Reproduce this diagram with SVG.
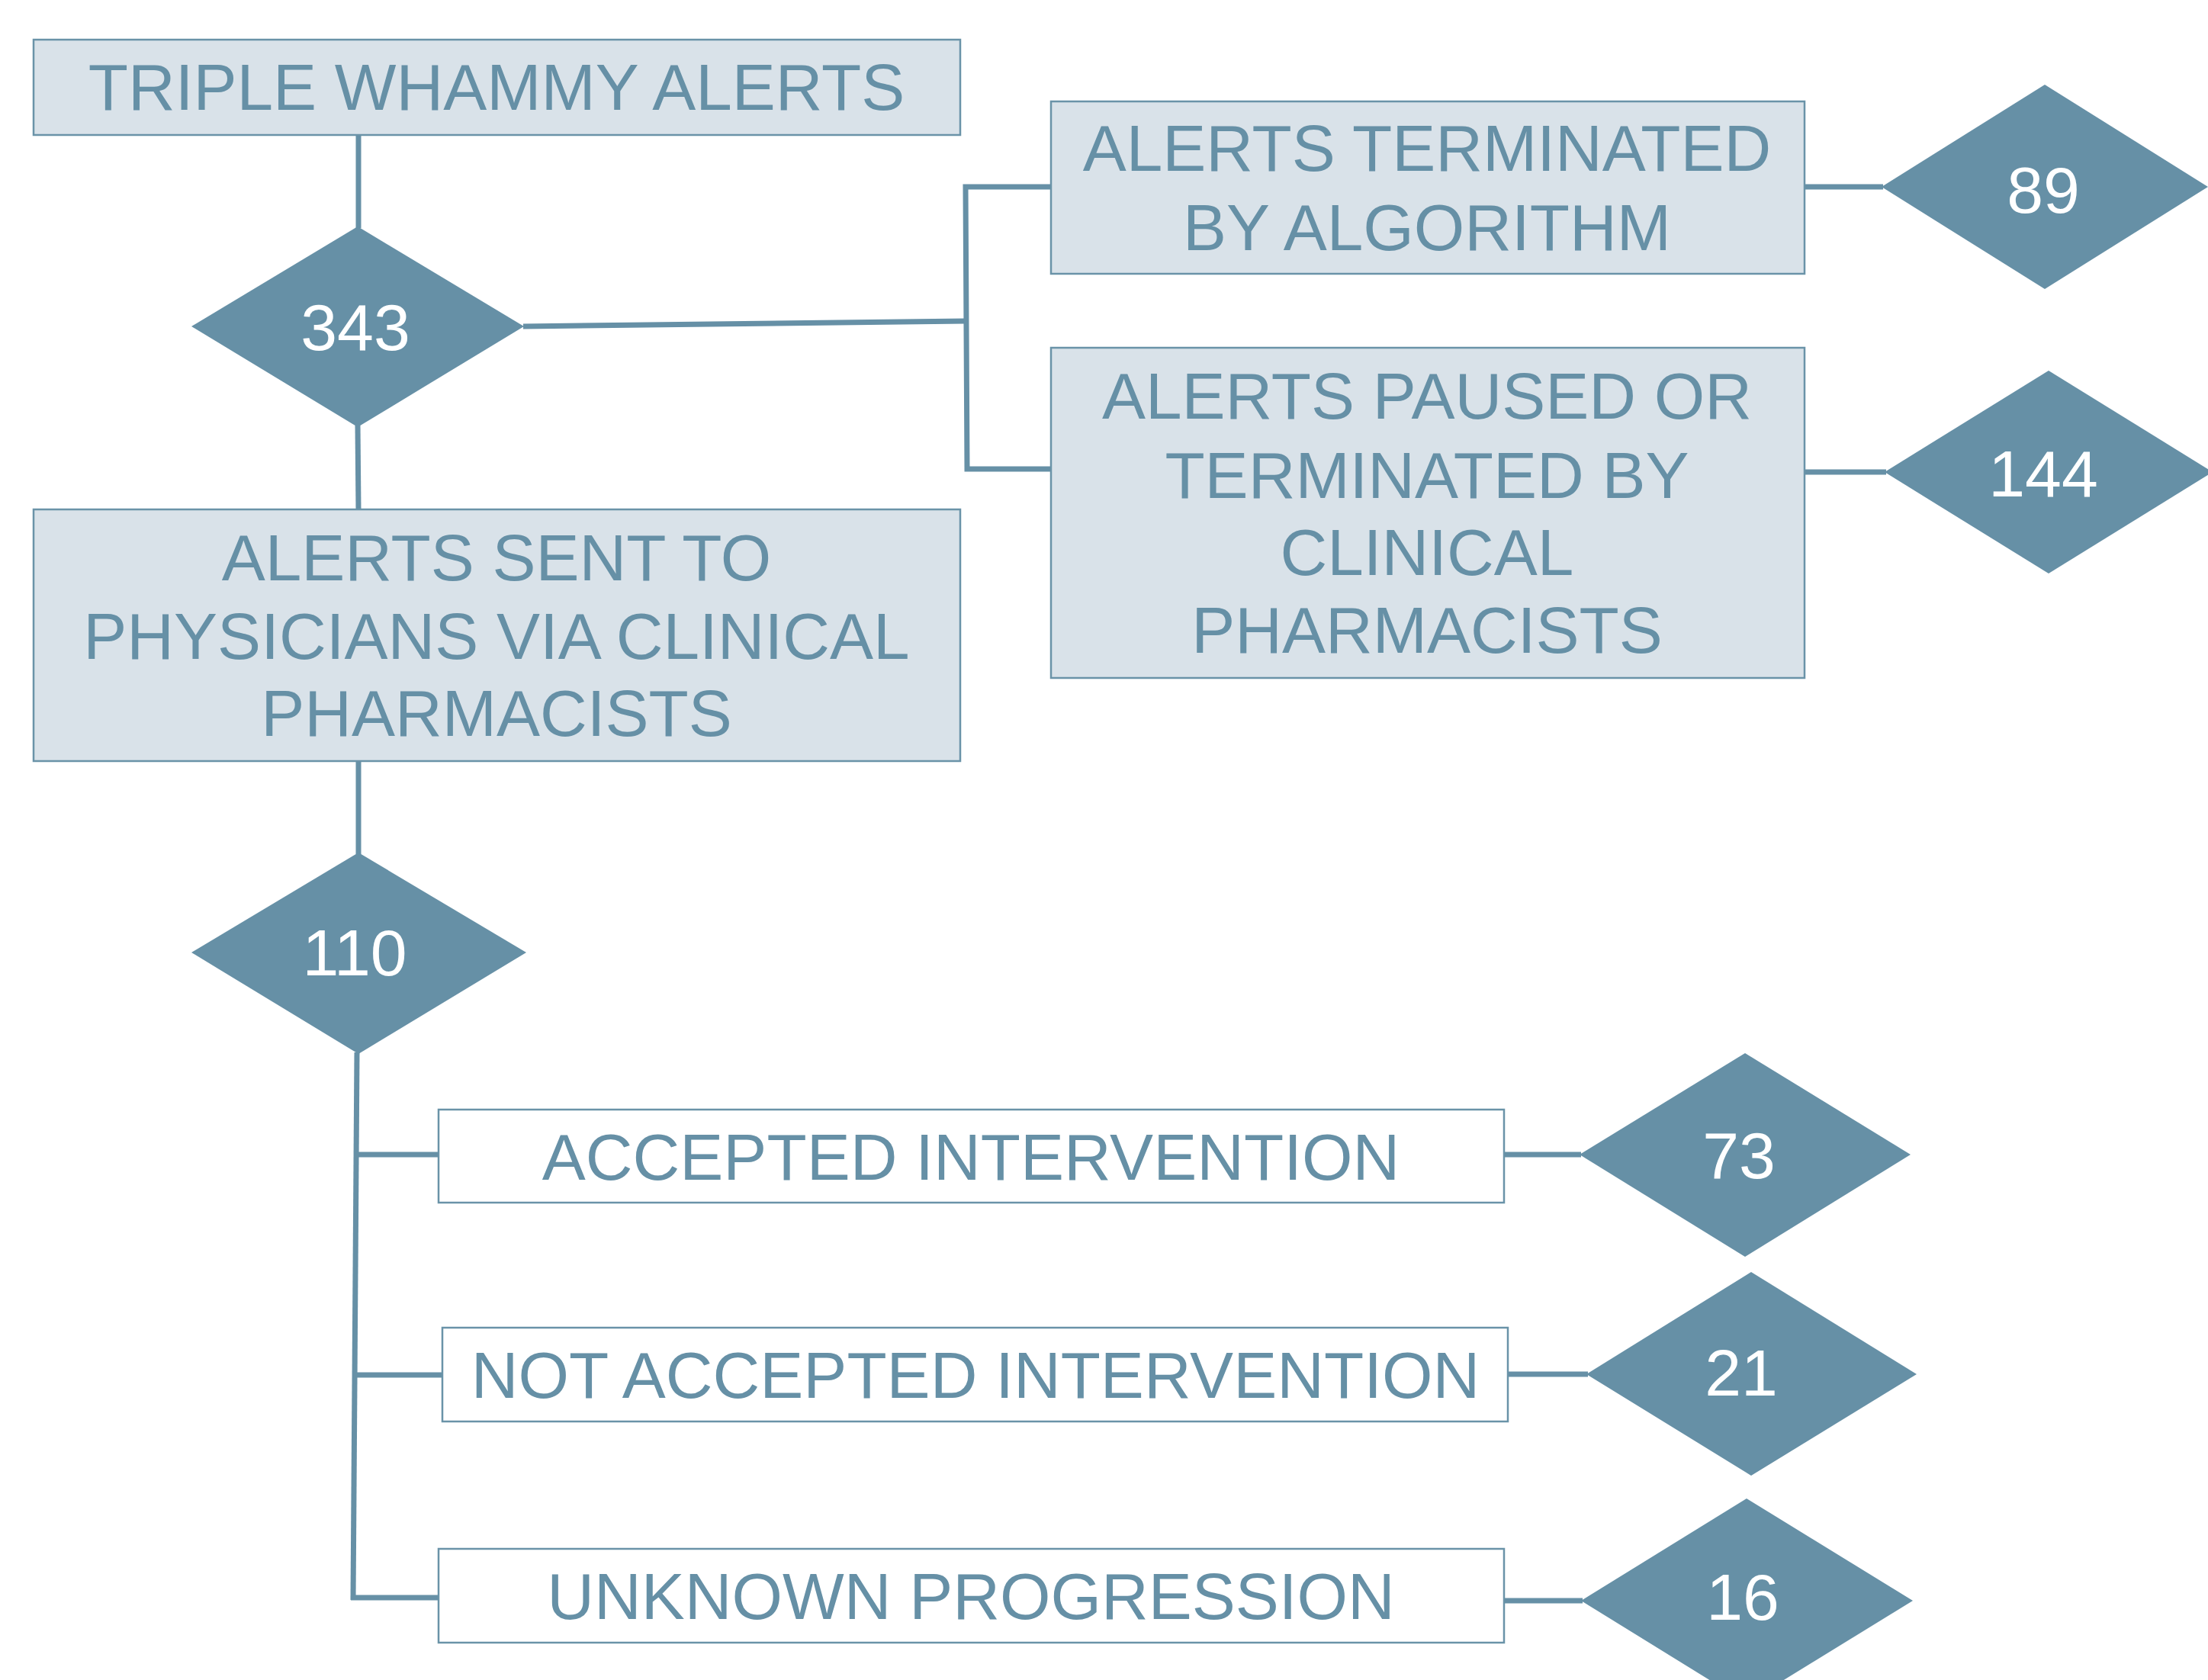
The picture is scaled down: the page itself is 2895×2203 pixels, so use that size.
<svg xmlns="http://www.w3.org/2000/svg" width="2895" height="2203" viewBox="0 0 2895 2203">
<style>
.box{fill:#d9e2e9;stroke:#6a93a8;stroke-width:2.5}
.wbox{fill:#ffffff;stroke:#6a93a8;stroke-width:2.5}
.dia{fill:#6690a6}
.lbl{font-family:"Liberation Sans",Arial,sans-serif;font-size:85.5px;fill:#6690a6;text-anchor:middle}
.num{font-family:"Liberation Sans",Arial,sans-serif;font-size:86px;fill:#ffffff;text-anchor:middle}
.con{fill:none;stroke:#6690a6;stroke-width:7}
</style>
<rect width="2895" height="2203" fill="#ffffff"/>
<g id="connectors">
<line class="con" x1="470" y1="177" x2="470" y2="299"/>
<line class="con" x1="686" y1="428" x2="1266" y2="421"/>
<polyline class="con" points="1378,245 1266,245 1268,615 1378,615"/>
<line class="con" x1="2366" y1="245" x2="2469" y2="245"/>
<line class="con" x1="2366" y1="619" x2="2473" y2="619"/>
<line class="con" x1="469" y1="558" x2="470" y2="668"/>
<line class="con" x1="470" y1="998" x2="470" y2="1120"/>
<line class="con" x1="468" y1="1380" x2="463" y2="2098"/>
<line class="con" x1="467" y1="1514" x2="575" y2="1514"/>
<line class="con" x1="465" y1="1803" x2="580" y2="1803"/>
<line class="con" x1="460" y1="2095" x2="575" y2="2095"/>
<line class="con" x1="1972" y1="1514" x2="2073" y2="1514"/>
<line class="con" x1="1977" y1="1802" x2="2082" y2="1802"/>
<line class="con" x1="1972" y1="2099" x2="2075" y2="2099"/>
</g>
<g id="n-triple">
<rect class="box" x="44" y="52" width="1215" height="125"/>
<text class="lbl" x="651" y="144">TRIPLE WHAMMY ALERTS</text>
</g>
<g id="d-343">
<polygon class="dia" points="251,428 469,297 687,428 469,560"/>
<text class="num" x="466" y="459">343</text>
</g>
<g id="n-algorithm">
<rect class="box" x="1378" y="133" width="988" height="226"/>
<text class="lbl" x="1871" y="224">ALERTS TERMINATED</text>
<text class="lbl" x="1871" y="328">BY ALGORITHM</text>
</g>
<g id="d-89">
<polygon class="dia" points="2467,245 2681,111 2895,245 2681,379"/>
<text class="num" x="2679" y="279">89</text>
</g>
<g id="n-paused">
<rect class="box" x="1378" y="456" width="988" height="433"/>
<text class="lbl" x="1871" y="549">ALERTS PAUSED OR</text>
<text class="lbl" x="1871" y="653">TERMINATED BY</text>
<text class="lbl" x="1871" y="754">CLINICAL</text>
<text class="lbl" x="1871" y="856">PHARMACISTS</text>
</g>
<g id="d-144">
<polygon class="dia" points="2471,619 2686,486 2901,619 2686,752"/>
<text class="num" x="2679" y="651">144</text>
</g>
<g id="n-sent">
<rect class="box" x="44" y="668" width="1215" height="330"/>
<text class="lbl" x="651" y="761">ALERTS SENT TO</text>
<text class="lbl" x="651" y="864">PHYSICIANS VIA CLINICAL</text>
<text class="lbl" x="651" y="965">PHARMACISTS</text>
</g>
<g id="d-110">
<polygon class="dia" points="251,1249 470,1118 690,1249 470,1382"/>
<text class="num" x="465" y="1279">110</text>
</g>
<g id="n-accepted">
<rect class="wbox" x="575" y="1455" width="1397" height="122"/>
<text class="lbl" x="1273" y="1547">ACCEPTED INTERVENTION</text>
</g>
<g id="d-73">
<polygon class="dia" points="2071,1514 2288,1381 2505,1514 2288,1648"/>
<text class="num" x="2280" y="1545">73</text>
</g>
<g id="n-notaccepted">
<rect class="wbox" x="580" y="1741" width="1397" height="123"/>
<text class="lbl" x="1279" y="1833">NOT ACCEPTED INTERVENTION</text>
</g>
<g id="d-21">
<polygon class="dia" points="2080,1802 2296,1668 2513,1802 2296,1935"/>
<text class="num" x="2283" y="1830">21</text>
</g>
<g id="n-unknown">
<rect class="wbox" x="575" y="2031" width="1397" height="123"/>
<text class="lbl" x="1273" y="2123">UNKNOWN PROGRESSION</text>
</g>
<g id="d-16">
<polygon class="dia" points="2073,2099 2290,1965 2508,2099 2290,2233"/>
<text class="num" x="2285" y="2124">16</text>
</g>
</svg>
